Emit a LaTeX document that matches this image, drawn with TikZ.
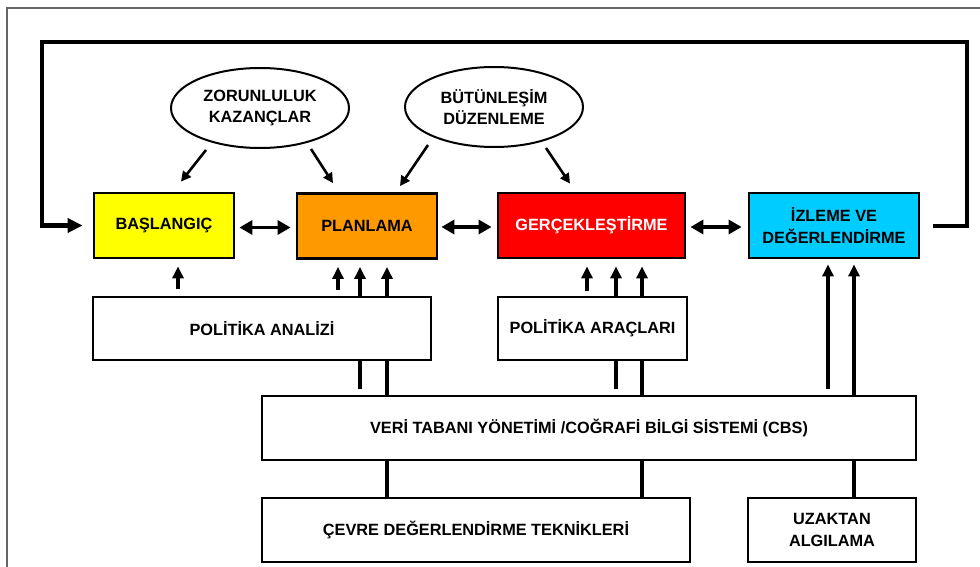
\documentclass[tikz,border=0pt]{standalone}
\usepackage{fontspec}
\setmainfont{Liberation Sans}
\usetikzlibrary{arrows.meta,calc,shapes.geometric}
\definecolor{cyel}{HTML}{FFFF00}
\definecolor{cora}{HTML}{FF9900}
\definecolor{cred}{HTML}{FF0000}
\definecolor{ccya}{HTML}{00CCFF}
\begin{document}
\begin{tikzpicture}[x=1pt,y=-1pt,
  txt/.style={font=\fontsize{16.3}{21.5}\selectfont\bfseries, align=center, inner sep=0pt},
  boxn/.style={txt, draw=black, line width=2.8, rectangle},
  elln/.style={txt, draw=black, line width=2, ellipse},
  uparr/.style={line width=3.5, -{Triangle[length=12,width=11]}},
  plain/.style={line width=3.5},
  dblarr/.style={line width=3.8, {Triangle[length=13,width=14]}-{Triangle[length=13,width=14]}},
  diagarr/.style={line width=2.6, -{Triangle[length=10,width=10]}},
  loopline/.style={line width=4.5, -{Triangle[length=15,width=14]}}]
\useasboundingbox (0,0) rectangle (980,567);
\draw[black!60, line width=1.5] (980,8) -- (7,8) -- (7,567);

\node[boxn, fill=cyel, minimum width=140, minimum height=65] (bas) at (164,225.5) {BAŞLANGIÇ};
\node[boxn, fill=cora, minimum width=140, minimum height=65] (plan) at (367,226) {PLANLAMA};
\node[boxn, fill=cred, text=white, minimum width=187, minimum height=65] (gerc) at (591.5,225.5) {GERÇEKLEŞTİRME};
\node[boxn, fill=ccya, minimum width=170, minimum height=65] (izl) at (834,225.5) {İZLEME VE\\DEĞERLENDİRME};

\node[boxn, fill=white, minimum width=338, minimum height=63] (polan) at (262,328.5) {POLİTİKA ANALİZİ};
\node[boxn, fill=white, minimum width=189, minimum height=63] (polar) at (592.5,328.5) {POLİTİKA ARAÇLARI};
\node[boxn, fill=white, minimum width=654, minimum height=64] (veri) at (589,428) {VERİ TABANI YÖNETİMİ /COĞRAFİ BİLGİ SİSTEMİ (CBS)};
\node[boxn, fill=white, minimum width=428, minimum height=64] (cevre) at (476,530) {ÇEVRE DEĞERLENDİRME TEKNİKLERİ};
\node[boxn, fill=white, minimum width=168, minimum height=64] (uzak) at (832,530) {UZAKTAN\\ALGILAMA};

\node[elln, minimum width=178, minimum height=80] (ell1) at (260,108) {ZORUNLULUK\\KAZANÇLAR};
\node[elln, minimum width=178, minimum height=80] (ell2) at (494,107) {BÜTÜNLEŞİM\\DÜZENLEME};

% feedback loop
\coordinate (tr) at (967,42);
\coordinate (tl) at (42,42);
\draw[loopline, line join=miter] ($(izl.east)+(13,0.5)$) -| (tr) -- (tl) |- ($(bas.west)+(-10,0)$);

% double arrows
\draw[dblarr] ($(bas.east)+(4,2)$) -- ($(plan.west)+(-5,1.5)$);
\draw[dblarr] ($(plan.east)+(3,1)$) -- ($(gerc.west)+(-5,1.5)$);
\draw[dblarr] ($(gerc.east)+(4,1.5)$) -- ($(izl.west)+(-6,1.5)$);

% diagonal arrows
\draw[diagarr] ($(ell1.center)+(-54,42)$) -- ($(bas.north)+(17,-10)$);
\draw[diagarr] ($(ell1.center)+(51,41)$) -- ($(plan.north)+(-34,-9)$);
\draw[diagarr] ($(ell2.center)+(-66,38)$) -- ($(plan.north)+(33,-6)$);
\draw[diagarr] ($(ell2.center)+(52,41)$) -- ($(gerc.north)+(-21.5,-8)$);

% up arrows to BASLANGIC
\draw[uparr] ($(bas.south)+(14,30)$) -- ($(bas.south)+(14,7)$);
% up arrows to PLANLAMA
\draw[uparr] ($(plan.south)+(-29,30)$) -- ($(plan.south)+(-29,7)$);
\draw[uparr] ($(polan.north)+(98,0)$) -- ($(plan.south)+(-7,7)$);
\draw[uparr] ($(polan.north)+(125,0)$) -- ($(plan.south)+(20,7)$);
\draw[plain] ($(veri.north)+(-229,-6)$) -- ($(polan.south)+(98,0)$);
\draw[plain] ($(veri.north)+(-202,0)$) -- ($(polan.south)+(125,0)$);
% up arrows to GERCEKLESTIRME
\draw[uparr] ($(gerc.south)+(-4.5,32)$) -- ($(gerc.south)+(-4.5,7)$);
\draw[uparr] ($(polar.north)+(23.5,0)$) -- ($(gerc.south)+(24.5,7)$);
\draw[uparr] ($(polar.north)+(49.5,0)$) -- ($(gerc.south)+(50.5,7)$);
\draw[plain] ($(veri.north)+(27,-6)$) -- ($(polar.south)+(23.5,0)$);
\draw[plain] ($(veri.north)+(53,0)$) -- ($(polar.south)+(49.5,0)$);
% up arrows to IZLEME
\draw[uparr] ($(veri.north)+(239,-6)$) -- ($(izl.south)+(-6,5)$);
\draw[uparr] ($(veri.north)+(265,0)$) -- ($(izl.south)+(20,5)$);
% bottom links
\draw[plain] ($(veri.south)+(-202,0)$) -- ($(cevre.north)+(-89,0)$);
\draw[plain] ($(veri.south)+(53,0)$) -- ($(cevre.north)+(166,0)$);
\draw[plain] ($(veri.south)+(265,0)$) -- ($(uzak.north)+(22,0)$);
\end{tikzpicture}
\end{document}
